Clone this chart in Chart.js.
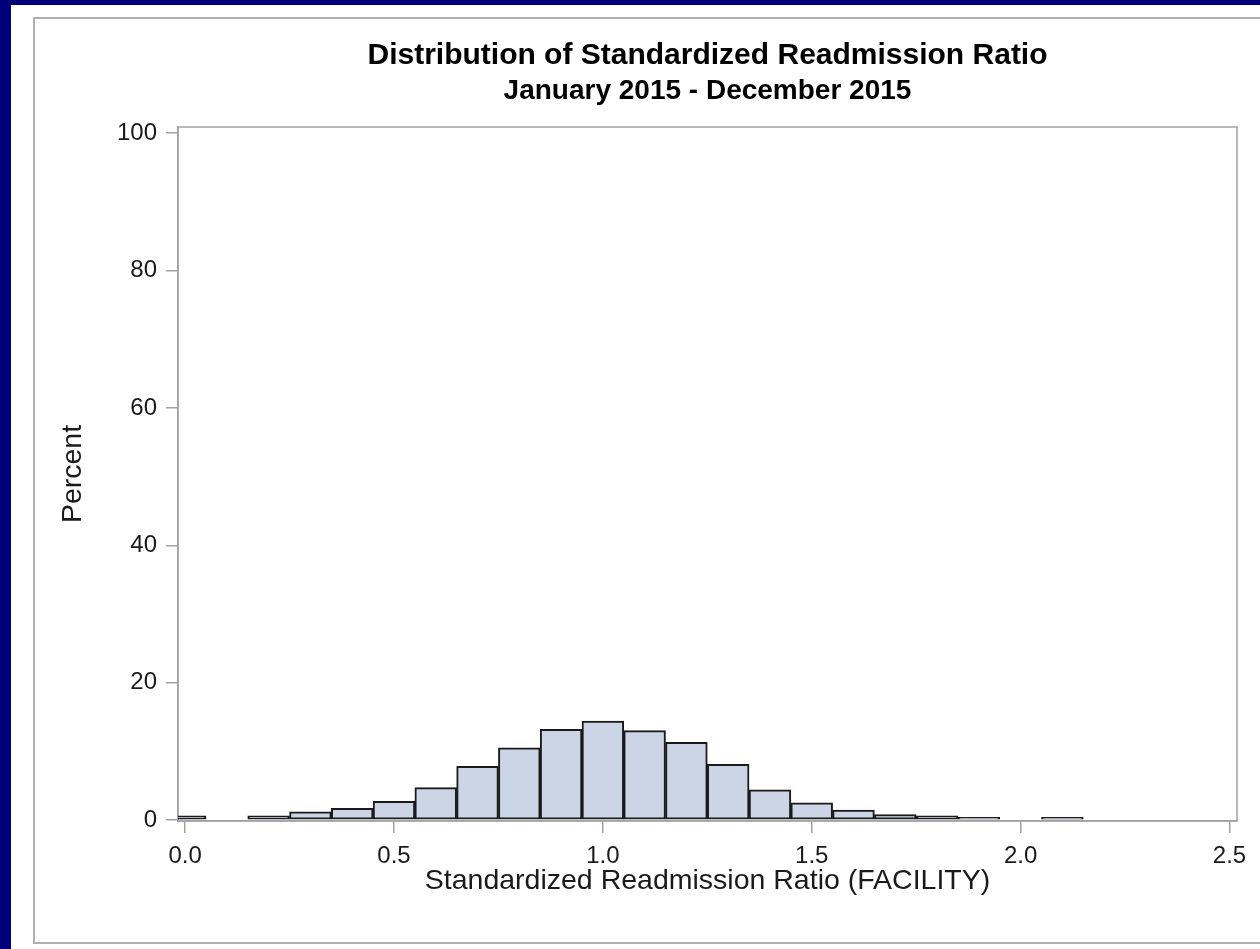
<!DOCTYPE html>
<html>
<head>
<meta charset="utf-8">
<script src="https://cdn.jsdelivr.net/npm/chart.js@4.4.1/dist/chart.umd.min.js"></script>
<style>
html,body{margin:0;padding:0;background:#000078;width:1260px;height:949px;overflow:hidden}
.panel{position:absolute;left:11px;top:5px;width:1249px;height:944px;background:#fff}
.frame{position:absolute;left:33px;top:17px;width:1240px;height:927px;border:2px solid #b0b0b0;box-sizing:border-box}
#wrap{position:absolute;left:0;top:0;width:1260px;height:949px}
</style>
</head>
<body>
<div class="panel"></div>
<div class="frame"></div>
<div id="wrap"><canvas id="chart" width="1260" height="949"></canvas></div>
<script>
// bin midpoints of the histogram (bin width 0.1)
const binMids = [0.0, 0.1, 0.2, 0.3, 0.4, 0.5, 0.6, 0.7, 0.8, 0.9, 1.0,
                 1.1, 1.2, 1.3, 1.4, 1.5, 1.6, 1.7, 1.8, 1.9, 2.0, 2.1]
// percent of facilities in each bin
const percents = [0.6, 0, 0.6, 1.2, 1.7, 2.7, 4.7, 7.8, 10.5, 13.2, 14.4,
                  13.0, 11.3, 8.1, 4.4, 2.5, 1.45, 0.8, 0.6, 0.4, 0, 0.4]
const xTicks = [0.0, 0.5, 1.0, 1.5, 2.0, 2.5]
const yTicks = [0, 20, 40, 60, 80, 100]

const titleText = 'Distribution of Standardized Readmission Ratio'
const subtitleText = 'January 2015 - December 2015'
const xTitle = 'Standardized Readmission Ratio (FACILITY)'
const yTitle = 'Percent'

const axisGray = '#a2a2a2'
const textColor = '#1a1a1a'
Chart.defaults.font.family = "'Liberation Sans', Arial, sans-serif"

const plotFrame = {
  id: 'plotFrame',
  beforeDatasetsDraw(chart) {
    const {ctx, chartArea: a} = chart
    ctx.save()
    ctx.strokeStyle = axisGray
    ctx.lineWidth = 1.5
    ctx.strokeRect(a.left, a.top, a.right - a.left, a.bottom - a.top)
    ctx.restore()
  }
}

const points = binMids.map((m, i) => ({x: m, y: percents[i]}))

const chart = new Chart(document.getElementById('chart'), {
  type: 'bar',
  data: {
    datasets: [{
      data: points,
      backgroundColor: '#cbd5e6',
      borderColor: '#1a1a1a',
      borderWidth: 2,
      borderSkipped: false,
      barPercentage: 1,
      categoryPercentage: 1
    }]
  },
  options: {
    responsive: false,
    animation: false,
    layout: {padding: {left: 52, right: 23, top: 20, bottom: 47}},
    plugins: {
      legend: {display: false},
      tooltip: {enabled: false},
      title: {
        display: true, text: titleText, fullSize: false, color: '#000',
        font: {size: 30, weight: 'bold', lineHeight: 1},
        padding: {top: 21, bottom: 0}
      },
      subtitle: {
        display: true, text: subtitleText, fullSize: false, color: '#000',
        font: {size: 28, weight: 'bold', lineHeight: 1},
        padding: {top: 6, bottom: 22}
      }
    },
    scales: {
      x: {
        type: 'linear',
        offset: false,
        min: -0.017, max: 2.518,
        afterFit: s => { s.height = 81 },
        afterBuildTicks: s => { s.ticks = xTicks.map(v => ({value: v})) },
        ticks: {
          stepSize: 0.5, includeBounds: false, autoSkip: false, maxRotation: 0,
          callback: v => v.toFixed(1),
          font: {size: 24}, color: textColor, padding: 9
        },
        grid: {offset: false, drawOnChartArea: false, drawTicks: true, tickLength: 12, color: axisGray, lineWidth: 1.5},
        border: {display: true, color: axisGray, width: 1.5},
        title: {display: true, text: xTitle, color: textColor, font: {size: 28.5}, padding: {top: 4, bottom: 4}}
      },
      y: {
        min: -0.15, max: 100.9,
        afterFit: s => { s.width = 126 },
        afterBuildTicks: s => { s.ticks = yTicks.map(v => ({value: v})) },
        ticks: {
          stepSize: 20, includeBounds: false,
          font: {size: 24}, color: textColor, padding: 9
        },
        grid: {drawOnChartArea: false, drawTicks: true, tickLength: 12, color: axisGray, lineWidth: 1.5},
        border: {display: true, color: axisGray, width: 1.5},
        title: {display: true, text: yTitle, color: textColor, font: {size: 28.5}, padding: {top: 4, bottom: 4}}
      }
    }
  },
  plugins: [plotFrame]
})
</script>
</body>
</html>
